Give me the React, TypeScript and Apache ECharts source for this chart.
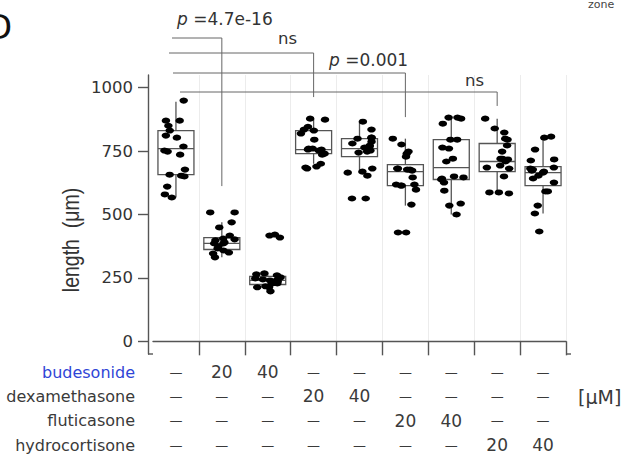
import React, { useEffect, useRef } from 'react';
import * as echarts from 'echarts';

// ---------- data ----------
const categories = ['control', 'bud20', 'bud40', 'dex20', 'dex40', 'flu20', 'flu40', 'hc20', 'hc40'];

const rowNames = ['budesonide', 'dexamethasone', 'fluticasone', 'hydrocortisone'];
const budesonide = ['—', '20', '40', '—', '—', '—', '—', '—', '—'];
const dexamethasone = ['—', '—', '—', '20', '40', '—', '—', '—', '—'];
const fluticasone = ['—', '—', '—', '—', '—', '20', '40', '—', '—'];
const hydrocortisone = ['—', '—', '—', '—', '—', '—', '—', '20', '40'];

const yTicks = [0, 250, 500, 750, 1000];

// [min, Q1, median, Q3, max]
const boxStats = [
  [567, 657, 760, 831, 945],
  [331, 362, 386, 409, 469],
  [205, 224, 240, 256, 270],
  [700, 740, 756, 831, 878],
  [673, 728, 760, 799, 862],
  [535, 614, 669, 697, 799],
  [500, 638, 685, 795, 882],
  [587, 669, 709, 780, 878],
  [504, 614, 665, 689, 803],
];

const g1 = [949, 870, 870, 850, 831, 803, 811, 752, 768, 748, 736, 677, 657, 653, 650, 610, 579, 567];
const g2 = [508, 508, 469, 449, 417, 405, 402, 398, 390, 386, 386, 374, 366, 358, 346, 350, 331];
const g3 = [417, 421, 409, 264, 268, 260, 252, 248, 240, 244, 240, 236, 228, 228, 228, 217, 213, 197, 213];
const g4 = [878, 874, 846, 835, 831, 819, 795, 760, 756, 760, 756, 752, 740, 736, 700, 689, 685, 681];
const g5 = [866, 835, 803, 803, 799, 787, 780, 772, 768, 764, 752, 748, 744, 681, 669, 665, 653, 563, 563];
const g6 = [799, 776, 748, 740, 728, 673, 677, 677, 681, 681, 646, 614, 614, 618, 618, 598, 539, 429, 429];
const g7 = [882, 882, 878, 858, 795, 795, 764, 760, 720, 709, 650, 646, 642, 638, 626, 594, 543, 535, 500];
const g8 = [878, 839, 823, 799, 795, 772, 748, 720, 717, 720, 709, 685, 681, 693, 650, 587, 587, 583];
const g9 = [807, 803, 756, 717, 713, 685, 681, 677, 673, 669, 665, 653, 642, 626, 591, 591, 535, 504, 433];
const dots = [g1, g2, g3, g4, g5, g6, g7, g8, g9];

// comparisons against control: target group, label, value where the drop ends
const bracketTargets = [1, 3, 5, 7];
const bracketLabels = ['4.7e-16', 'ns', '0.001', 'ns'];
const bracketDropValues = [612, 963, 884, 928];

// ---------- styling ----------
const FONT = 'DejaVu Sans';
const TEXT = '#333';
const TABLE = '#3a3a3a';
const LINE = '#555';
const BRACKET_Y = [38, 53, 73, 92];
const BRACKET_X0 = [172, 169, 173, 180];
const LABEL_POS = [
  [177, 19],
  [278, 38],
  [329, 60],
  [465, 80],
];

const tableRows = [budesonide, dexamethasone, fluticasone, hydrocortisone];
const ROW_Y = [372, 396, 420, 445];

export default function App() {
  const ref = useRef<HTMLDivElement>(null);

  useEffect(() => {
    const chart = echarts.init(ref.current!, null, { renderer: 'svg' });
    const skipFirst = (i: number) => i !== 0;

    const option: any = {
      animation: false,
      textStyle: { fontFamily: FONT },
      grid: { left: 153, right: 70, top: 75, bottom: 108, containLabel: false },
      xAxis: {
        type: 'category',
        data: categories,
        boundaryGap: true,
        jitter: 26,
        jitterOverlap: true,
        axisLine: { show: true, lineStyle: { color: LINE, width: 1.4 } },
        axisTick: { show: true, length: 14, interval: skipFirst, lineStyle: { color: LINE, width: 1.4 } },
        splitLine: { show: true, interval: skipFirst, lineStyle: { color: '#ececec', width: 1 } },
        axisLabel: {
          interval: 0,
          margin: 6,
          formatter: (_v: string, i: number) =>
            tableRows.map((r) => (r[i] === '—' ? '{d|—}' : `{n|${r[i]}}`)).join('\n'),
          rich: {
            n: { fontSize: 17, lineHeight: 24.3, color: TABLE, fontFamily: FONT },
            d: { fontSize: 13, lineHeight: 24.3, color: TABLE, fontFamily: FONT },
          },
        },
      },
      yAxis: {
        type: 'value',
        min: -50,
        max: 1050,
        offset: 5,
        axisLine: { show: true, lineStyle: { color: LINE, width: 1.4 } },
        axisTick: { show: true, length: 10, customValues: yTicks, lineStyle: { color: LINE, width: 1.4 } },
        axisLabel: {
          customValues: yTicks,
          margin: 15,
          fontSize: 16.5,
          color: TEXT,
          fontFamily: FONT,
          formatter: (v: number) => String(v),
        },
        splitLine: { show: false },
      },
      series: [
        {
          type: 'custom',
          z: 2,
          data: boxStats.map((s, i) => [i, ...s]),
          encode: { x: 0, y: [1, 2, 3, 4, 5] },
          renderItem: (_p: any, api: any) => {
            const xi = api.value(0);
            const pMin = api.coord([xi, api.value(1)]);
            const pQ1 = api.coord([xi, api.value(2)]);
            const pMed = api.coord([xi, api.value(3)]);
            const pQ3 = api.coord([xi, api.value(4)]);
            const pMax = api.coord([xi, api.value(5)]);
            const x = pMed[0];
            const half = 18;
            const st = { stroke: LINE, lineWidth: 1.3, fill: 'none' };
            return {
              type: 'group',
              children: [
                { type: 'rect', shape: { x: x - half, y: pQ3[1], width: half * 2, height: pQ1[1] - pQ3[1] }, style: st },
                { type: 'line', shape: { x1: x - half, y1: pMed[1], x2: x + half, y2: pMed[1] }, style: st },
                { type: 'line', shape: { x1: x, y1: pQ3[1], x2: x, y2: pMax[1] }, style: st },
                { type: 'line', shape: { x1: x, y1: pQ1[1], x2: x, y2: pMin[1] }, style: st },
              ],
            };
          },
        },
        {
          type: 'scatter',
          z: 3,
          symbol: 'circle',
          symbolSize: [8.5, 6],
          itemStyle: { color: '#000', opacity: 1 },
          data: dots.flatMap((arr, i) => arr.map((v) => [i, v])),
        },
      ],
    };
    chart.setOption(option);

    const graphics: any[] = [];
    // row names
    rowNames.forEach((name, k) => {
      graphics.push({
        type: 'text',
        x: 135,
        y: ROW_Y[k],
        style: {
          text: name,
          align: 'right',
          verticalAlign: 'middle',
          fontFamily: FONT,
          fontSize: 16,
          fill: k === 0 ? '#2f45d6' : TABLE,
        },
      });
    });
    graphics.push({
      type: 'text',
      x: 578,
      y: 397,
      style: { text: '[μM]', align: 'left', verticalAlign: 'middle', fontFamily: FONT, fontSize: 19, fill: TABLE },
    });
    graphics.push({
      type: 'text',
      x: 71,
      y: 240,
      rotation: Math.PI / 2,
      scaleY: 1.2,
      style: {
        text: 'length  (μm)',
        align: 'center',
        verticalAlign: 'middle',
        fontFamily: 'Liberation Sans',
        fontSize: 19.5,
        fill: TEXT,
      },
    });
    graphics.push({
      type: 'text',
      x: -14,
      y: 27,
      style: { text: 'D', align: 'left', verticalAlign: 'middle', fontFamily: FONT, fontSize: 34, fill: '#111' },
    });
    graphics.push({
      type: 'text',
      x: 588,
      y: 4,
      style: { text: 'zone', align: 'left', verticalAlign: 'middle', fontFamily: FONT, fontSize: 11, fill: '#444' },
    });
    // close the corner between the offset y axis and x axis, and the small overhang on the right
    const left = chart.convertToPixel({ xAxisIndex: 0 }, 0) as number;
    const right = chart.convertToPixel({ xAxisIndex: 0 }, categories.length - 1) as number;
    const band = (right - left) / (categories.length - 1);
    graphics.push({
      type: 'line',
      shape: { x1: left - band / 2 - 5, y1: 354, x2: left - band / 2, y2: 354 },
      style: { stroke: LINE, lineWidth: 1.4 },
    });
    graphics.push({
      type: 'line',
      shape: { x1: right + band / 2, y1: 354, x2: right + band / 2 + 5, y2: 354 },
      style: { stroke: LINE, lineWidth: 1.4 },
    });
    // brackets
    bracketTargets.forEach((t, k) => {
      const tx = chart.convertToPixel({ xAxisIndex: 0 }, t) as number;
      const dropY = chart.convertToPixel({ yAxisIndex: 0 }, bracketDropValues[k]) as number;
      graphics.push({
        type: 'polyline',
        shape: { points: [[BRACKET_X0[k], BRACKET_Y[k]], [tx, BRACKET_Y[k]], [tx, dropY]] },
        style: { stroke: '#666', lineWidth: 1, fill: 'none' },
      });
      const lab = bracketLabels[k];
      const isP = lab !== 'ns';
      graphics.push({
        type: 'text',
        x: LABEL_POS[k][0],
        y: LABEL_POS[k][1],
        style: {
          text: isP ? `{i|p} ={t|${lab}}` : lab,
          align: 'left',
          verticalAlign: 'middle',
          fontFamily: FONT,
          fontSize: isP ? 17 : 16.5,
          fill: TEXT,
          rich: {
            i: { fontStyle: 'italic', fontFamily: FONT, fontSize: 17, fill: TEXT },
            t: { fontFamily: FONT, fontSize: 17, fill: TEXT },
          },
        },
      });
    });
    chart.setOption({ graphic: graphics });

    return () => chart.dispose();
  }, []);

  return <div ref={ref} style={{ position: 'absolute', left: 0, top: 0, width: 636, height: 462 }} />;
}
